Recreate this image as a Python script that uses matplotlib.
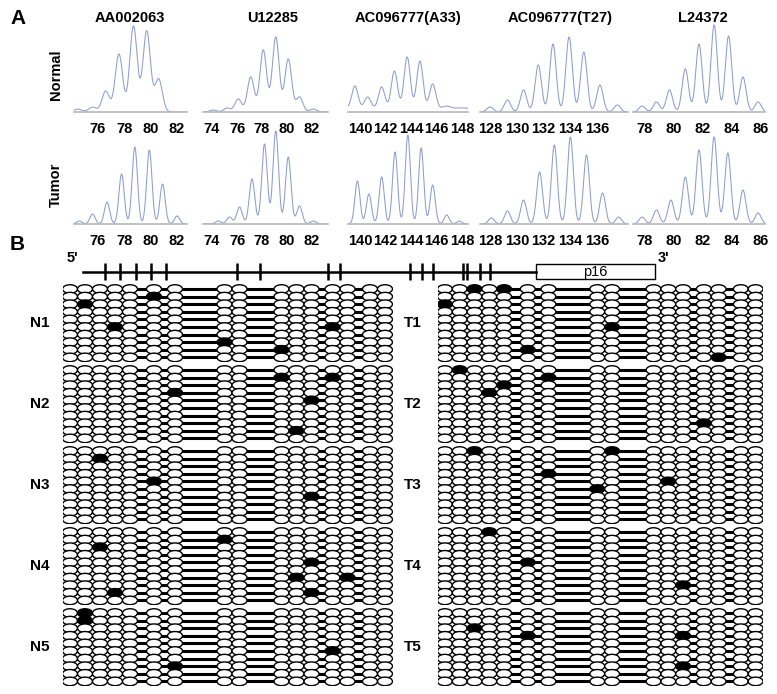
import numpy as np
import matplotlib
matplotlib.use("Agg")
import matplotlib.pyplot as plt
from matplotlib.patches import Ellipse, Rectangle

plt.rcParams["font.family"] = ["Liberation Sans", "DejaVu Sans"]
plt.rcParams["font.weight"] = "bold"

W, H = 777, 694

# ---------------------------------------------------------------- panel A data
markers = ["AA002063", "U12285", "AC096777(A33)", "AC096777(T27)", "L24372"]
size_ticks = [[76, 78, 80, 82], [74, 76, 78, 80, 82], [140, 142, 144, 146, 148],
              [128, 130, 132, 134, 136], [78, 80, 82, 84, 86]]
size_range = [(74.2, 82.75), (73.28, 83.28), (139.06, 148.47), (127.25, 138.3), (77.17, 86.33)]

normal_pos = [[74.5, 75.6, 76.6, 77.6, 78.7, 79.7, 80.6],
              [74.1, 75.2, 76.1, 77.1, 78.1, 79.1, 80.1, 81.0, 82.1],
              [139.6, 140.6, 141.7, 142.7, 143.7, 144.7, 145.7, 146.8, 147.8],
              [128.0, 129.3, 130.5, 131.6, 132.7, 133.9, 135.0, 136.2, 137.5],
              [77.8, 78.8, 79.7, 80.8, 81.75, 82.8, 83.8, 84.8, 85.85]]
normal_h = [[3, 5, 21, 58, 86, 81, 33],
            [2, 4, 13, 35, 62, 75, 53, 15, 3],
            [22, 11, 21, 37, 51, 47, 24, 2, 0],
            [5, 12, 22, 47, 68, 75, 60, 27, 7],
            [6, 10, 22, 43, 68, 87, 76, 35, 10]]
normal_base = [0, 0, 4, 0, 0]
normal_sigma = [0.28, 0.27, 0.24, 0.24, 0.22]

tumor_pos = [[74.6, 75.6, 76.7, 77.8, 78.8, 79.9, 80.9, 82.0],
             [74.5, 75.4, 76.2, 77.2, 78.2, 79.1, 80.1, 81.0, 82.1],
             [139.8, 140.7, 141.7, 142.75, 143.75, 144.8, 145.7, 146.8, 147.8],
             [128.1, 129.3, 130.5, 131.7, 132.8, 134.0, 135.2, 136.4, 137.6],
             [77.8, 78.8, 79.8, 80.8, 81.75, 82.8, 83.75, 84.8, 85.85]]
tumor_h = [[3, 10, 22, 50, 77, 74, 40, 8],
           [3, 7, 17, 45, 80, 93, 67, 18, 3],
           [43, 30, 47, 72, 89, 76, 39, 9, 3],
           [6, 13, 24, 52, 79, 87, 69, 31, 7],
           [7, 14, 24, 47, 74, 87, 71, 34, 11]]
tumor_base = [0, 0, 0, 0, 0]
tumor_sigma = [0.2, 0.22, 0.2, 0.22, 0.21]

# ---------------------------------------------------------------- panel B data
cpg_sites = [105, 120, 136, 151, 166, 237, 260, 328, 340, 410, 422, 433, 463, 467, 480, 490]
promoter = (83, 536)
exon = (536, 655)
n_clones = 10
# methylated CpGs per sample as (cpg index, clone index)
normal_meth = [[(1, 2), (3, 5), (5, 1), (7, 7), (9, 8), (12, 5)],
               [(6, 3), (9, 1), (12, 1), (11, 4), (10, 8)],
               [(2, 1), (5, 4), (11, 6)],
               [(2, 2), (7, 1), (11, 4), (10, 6), (13, 6), (3, 8), (11, 8)],
               [(1, 0), (1, 1), (6, 7), (12, 5)]]
tumor_meth = [[(2, 0), (4, 0), (0, 2), (5, 8), (8, 5), (13, 9)],
              [(1, 0), (6, 1), (4, 2), (3, 3), (12, 7)],
              [(2, 0), (6, 3), (7, 5), (8, 0), (10, 4)],
              [(3, 0), (5, 4), (11, 7)],
              [(2, 2), (5, 3), (11, 3), (11, 7)]]

# column layout of the clone diagram, in ellipse widths
col_x = [0, 1, 2, 3, 4, 5.6, 7, 10.3, 11.3, 14.1, 15.1, 16.1, 17.5, 18.5, 20, 21]


def box(x0, y0, x1, y1):
    return [x0 / W, 1 - y1 / H, (x1 - x0) / W, (y1 - y0) / H]


fig = plt.figure(figsize=(W / 100, H / 100), dpi=100)

# ---------------------------------------------------------------- A: traces
col_px = [(74, 187), (203, 328), (348, 468), (480, 628), (633, 765)]
title_x = [130, 273, 408, 560, 703]


def trace(ax, pos, h, base, sigma, lim):
    x = np.linspace(lim[0], lim[1], 800)
    y = np.full_like(x, base)
    for p, hh in zip(pos, h):
        y += hh * np.exp(-0.5 * ((x - p) / sigma) ** 2)
    ax.plot(x, y, color="#8d9dcf", lw=0.75)


for row, (bottom, pos_l, h_l, base_l, sig_l) in enumerate(
        [(112, normal_pos, normal_h, normal_base, normal_sigma),
         (224, tumor_pos, tumor_h, tumor_base, tumor_sigma)]):
    for i in range(5):
        x0, x1 = col_px[i]
        ax = fig.add_axes(box(x0, bottom - 95, x1, bottom))
        trace(ax, pos_l[i], h_l[i], base_l[i], sig_l[i], size_range[i])
        ax.set_xlim(*size_range[i])
        ax.set_ylim(0, 95)
        for s in ["top", "left", "right"]:
            ax.spines[s].set_visible(False)
        ax.spines["bottom"].set_color("#b8b8b8")
        ax.spines["bottom"].set_linewidth(1.2)
        ax.set_yticks([])
        ax.set_xticks(size_ticks[i])
        ax.tick_params(axis="x", length=0, pad=7, labelsize=10.5)
        for lab in ax.get_xticklabels():
            lab.set_fontweight("bold")
        ax.patch.set_visible(False)

for i, m in enumerate(markers):
    fig.text(title_x[i] / W, 1 - 18 / H, m, ha="center", va="center", fontsize=10.5)

fig.text(56 / W, 1 - 75 / H, "Normal", rotation=90, ha="center", va="center", fontsize=10.5)
fig.text(56 / W, 1 - 185 / H, "Tumor", rotation=90, ha="center", va="center", fontsize=10.5)
fig.text(10 / W, 1 - 18 / H, "A", ha="left", va="center", fontsize=15)
fig.text(10 / W, 1 - 245 / H, "B", ha="left", va="center", fontsize=15)

# ---------------------------------------------------------------- B: p16 map
gx = fig.add_axes(box(0, 250, W, 290))
gx.set_xlim(0, W)
gx.set_ylim(290, 250)
gx.axis("off")
gx.plot(promoter, [272, 272], color="black", lw=1.8)
gx.vlines(cpg_sites, 263, 280, color="black", lw=1.8)
gx.add_patch(Rectangle((exon[0], 264), exon[1] - exon[0], 15, facecolor="white",
                       edgecolor="black", lw=1))
gx.text((exon[0] + exon[1]) / 2, 272, "p16", ha="center", va="center", fontsize=10.5,
        fontweight="normal")
gx.text(72, 258, "5'", ha="center", va="center", fontsize=10.5)
gx.text(664, 258, "3'", ha="center", va="center", fontsize=10.5)

# ---------------------------------------------------------------- B: clones
row_pitch = 7.6
block_top = [289, 370, 451, 532, 613]
sides = [(62.5, 392.5, "N", normal_meth, 40), (437.5, 763, "T", tumor_meth, 413)]

for x0, x1, tag, meth, lab_x in sides:
    for b in range(5):
        y0 = block_top[b] - 0.6 * row_pitch
        y1 = block_top[b] + (n_clones - 0.4) * row_pitch
        ax = fig.add_axes(box(x0, y0, x1, y1))
        ax.set_xlim(-0.5, 21.5)
        ax.set_ylim(n_clones - 0.4, -0.6)
        ax.axis("off")
        filled = set(meth[b])
        for r in range(n_clones):
            ax.plot(col_x, [r] * len(col_x), color="black", lw=2.2, zorder=1,
                    solid_capstyle="butt")
            for c, cx in enumerate(col_x):
                fc = "black" if (c, r) in filled else "white"
                ax.add_patch(Ellipse((cx, r), 1.0, 1.12, facecolor=fc,
                                     edgecolor="black", lw=1.0, zorder=2))
        fig.text(lab_x / W, 1 - (y0 + y1) / 2 / H, f"{tag}{b + 1}", ha="center",
                 va="center", fontsize=11)

fig.savefig("out.png", dpi=100)
